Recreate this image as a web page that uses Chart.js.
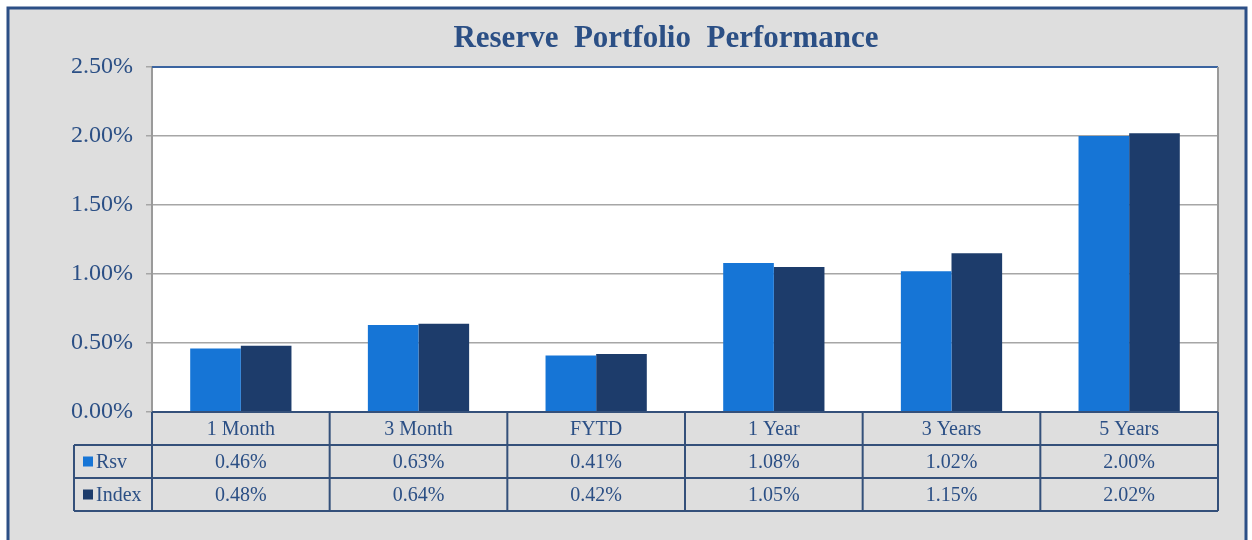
<!DOCTYPE html>
<html>
<head>
<meta charset="utf-8">
<title>Reserve Portfolio Performance</title>
<script src="https://cdn.jsdelivr.net/npm/chart.js@4.4.1/dist/chart.umd.min.js"></script>
<style>
  html, body { margin: 0; padding: 0; background: #fff; }
  #wrap { width: 1252px; height: 540px; position: relative; }
</style>
</head>
<body>
<div id="wrap"><canvas id="perfChart"></canvas></div>
<script>
const categories = ['1 Month', '3 Month', 'FYTD', '1 Year', '3 Years', '5 Years'];
const seriesNames = ['Rsv', 'Index'];
const rsvValues = [0.46, 0.63, 0.41, 1.08, 1.02, 2.00];
const indexValues = [0.48, 0.64, 0.42, 1.05, 1.15, 2.02];
const yTicks = [0, 0.5, 1.0, 1.5, 2.0, 2.5];

const textBlue = '#2b4f85';
const lineBlue = '#34507a';
const serif = "'Liberation Serif', 'Times New Roman', serif";

function pct(v) { return v.toFixed(2) + '%'; }

// frame + grey background behind the chart
const framePlugin = {
    id: 'frame',
    afterLayout(chart) {
        // centre the title a bit right of the canvas middle, like the original
        const t = chart.titleBlock;
        if (t) {
            t.left = 114;
            t.width = t.right - t.left;
        }
    },
    beforeDraw(chart) {
        const ctx = chart.ctx;
        const a = chart.chartArea;
        ctx.save();
        ctx.fillStyle = '#ffffff';
        ctx.fillRect(0, 0, chart.width, chart.height);
        ctx.fillStyle = '#dedede';
        ctx.fillRect(8, 8, chart.width - 14, chart.height);
        ctx.strokeStyle = '#2c4f86';
        ctx.lineWidth = 3;
        ctx.strokeRect(8, 8, chart.width - 14, chart.height + 10);
        ctx.fillStyle = '#ffffff';
        ctx.fillRect(a.left, a.top, a.right - a.left, a.bottom - a.top);
        ctx.restore();
    },
    afterDraw(chart) {
        const ctx = chart.ctx;
        const a = chart.chartArea;
        ctx.save();
        // plot area top (blue) and right (grey) edges
        ctx.strokeStyle = '#3b64a0';
        ctx.lineWidth = 2;
        ctx.beginPath();
        ctx.moveTo(a.left, a.top);
        ctx.lineTo(a.right, a.top);
        ctx.stroke();
        ctx.strokeStyle = '#9a9a9a';
        ctx.beginPath();
        ctx.moveTo(a.right, a.top);
        ctx.lineTo(a.right, a.bottom);
        ctx.stroke();
        ctx.restore();
    }
};

// data table under the plot, laid out on the x scale
const dataTablePlugin = {
    id: 'dataTable',
    afterDraw(chart) {
        const ctx = chart.ctx;
        const a = chart.chartArea;
        const x = chart.scales.x;
        const n = categories.length;
        const colW = (a.right - a.left) / n;
        const rowH = 33;
        const top = a.bottom;
        const legendLeft = 74;

        ctx.save();
        ctx.strokeStyle = lineBlue;
        ctx.lineWidth = 2;

        // horizontal lines
        ctx.beginPath();
        ctx.moveTo(a.left, top);
        ctx.lineTo(a.right, top);
        for (let r = 1; r <= 3; r++) {
            ctx.moveTo(legendLeft, top + r * rowH);
            ctx.lineTo(a.right, top + r * rowH);
        }
        // vertical lines
        ctx.moveTo(legendLeft, top + rowH);
        ctx.lineTo(legendLeft, top + 3 * rowH);
        for (let i = 0; i <= n; i++) {
            const xx = a.left + i * colW;
            ctx.moveTo(xx, top);
            ctx.lineTo(xx, top + 3 * rowH);
        }
        ctx.stroke();

        ctx.font = '20px ' + serif;
        ctx.fillStyle = textBlue;
        ctx.textAlign = 'center';
        ctx.textBaseline = 'middle';
        categories.forEach((c, i) => {
            const cx = x.getPixelForValue(i);
            ctx.fillText(c, cx, top + rowH / 2 + 1);
        });

        chart.data.datasets.forEach((ds, r) => {
            const cy = top + (r + 1.5) * rowH + 1;
            ds.data.forEach((v, i) => {
                ctx.fillStyle = textBlue;
                ctx.textAlign = 'center';
                ctx.fillText(pct(v), x.getPixelForValue(i), cy);
            });
            ctx.fillStyle = ds.backgroundColor;
            ctx.fillRect(legendLeft + 9, cy - 6, 10, 10);
            ctx.fillStyle = textBlue;
            ctx.textAlign = 'left';
            ctx.fillText(ds.label, legendLeft + 22, cy);
        });
        ctx.restore();
    }
};

new Chart(document.getElementById('perfChart').getContext('2d'), {
    type: 'bar',
    data: {
        labels: categories,
        datasets: [{
            label: seriesNames[0],
            data: rsvValues,
            backgroundColor: '#1675d6',
            borderWidth: 0
        }, {
            label: seriesNames[1],
            data: indexValues,
            backgroundColor: '#1d3c6b',
            borderWidth: 0
        }]
    },
    options: {
        responsive: true,
        maintainAspectRatio: false,
        animation: false,
        datasets: {
            bar: { categoryPercentage: 0.57, barPercentage: 1.0 }
        },
        layout: { padding: { top: 0, right: 34, bottom: 128, left: 0 } },
        scales: {
            x: { display: false },
            y: {
                min: 0,
                max: 2.5,
                afterFit(scale) { scale.width = 152; },
                afterBuildTicks(scale) { scale.ticks = yTicks.map(v => ({ value: v })); },
                grid: { color: '#a6a6a6', lineWidth: 1.5, tickLength: 6 },
                border: { color: '#9a9a9a', width: 2 },
                ticks: {
                    padding: 13,
                    color: textBlue,
                    font: { family: serif, size: 24 },
                    callback: v => pct(v)
                }
            }
        },
        plugins: {
            legend: { display: false },
            tooltip: { enabled: false },
            title: {
                display: true,
                text: 'Reserve  Portfolio  Performance',
                color: textBlue,
                font: { family: serif, size: 31, weight: 'bold' },
                padding: { top: 20, bottom: 9.8 }
            }
        }
    },
    plugins: [framePlugin, dataTablePlugin]
});
</script>
</body>
</html>
